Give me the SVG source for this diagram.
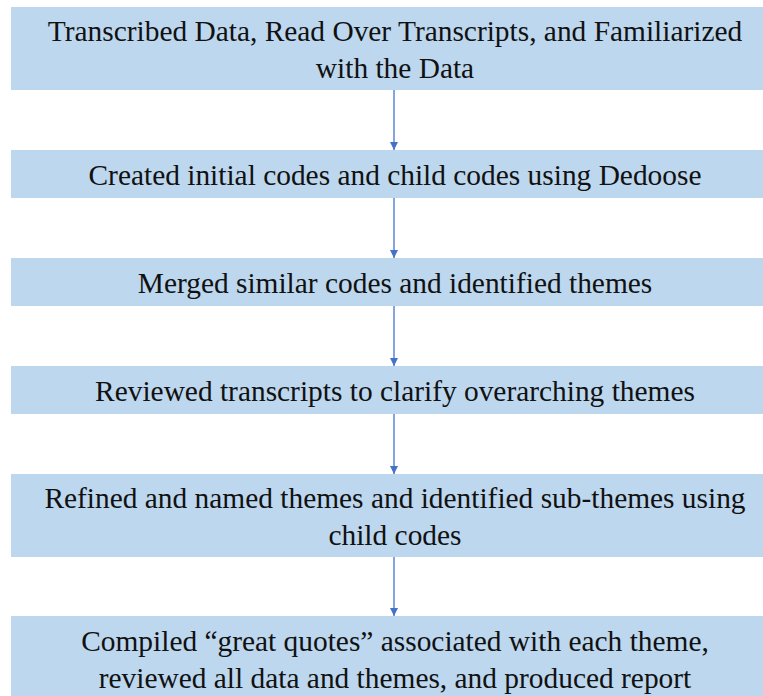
<svg xmlns="http://www.w3.org/2000/svg" width="763" height="696" viewBox="0 0 763 696">
<defs>
<marker id="ah" markerWidth="8" markerHeight="8" refX="8" refY="4" orient="auto" markerUnits="userSpaceOnUse" viewBox="0 0 8 8">
<path d="M0,0 L8,4 L0,8 z" fill="#4472C4"/>
</marker>
</defs>
<rect width="763" height="696" fill="#fff"/>
<g id="connectors" stroke="#5B87D6" stroke-width="1.5">
<line x1="394" y1="90" x2="394" y2="150" marker-end="url(#ah)"/>
<line x1="394" y1="198" x2="394" y2="258" marker-end="url(#ah)"/>
<line x1="394" y1="306" x2="394" y2="366" marker-end="url(#ah)"/>
<line x1="394" y1="414" x2="394" y2="474" marker-end="url(#ah)"/>
<line x1="394" y1="557" x2="394" y2="616" marker-end="url(#ah)"/>
</g>
<g id="n1"><rect fill="#BDD7EE" x="11" y="7" width="752" height="83"/><text font-family="Liberation Serif" font-size="29.4" fill="#111" text-anchor="middle" x="395" y="41">Transcribed Data, Read Over Transcripts, and Familiarized</text><text font-family="Liberation Serif" font-size="29.4" fill="#111" text-anchor="middle" x="395" y="78">with the Data</text></g>
<g id="n2"><rect fill="#BDD7EE" x="11" y="150" width="752" height="48"/><text font-family="Liberation Serif" font-size="29.4" fill="#111" text-anchor="middle" x="395" y="185">Created initial codes and child codes using Dedoose</text></g>
<g id="n3"><rect fill="#BDD7EE" x="11" y="258" width="752" height="48"/><text font-family="Liberation Serif" font-size="29.4" fill="#111" text-anchor="middle" x="395" y="293">Merged similar codes and identified themes</text></g>
<g id="n4"><rect fill="#BDD7EE" x="11" y="366" width="752" height="48"/><text font-family="Liberation Serif" font-size="29.4" fill="#111" text-anchor="middle" x="395" y="401">Reviewed transcripts to clarify overarching themes</text></g>
<g id="n5"><rect fill="#BDD7EE" x="11" y="474" width="752" height="83"/><text font-family="Liberation Serif" font-size="29.4" fill="#111" text-anchor="middle" x="395" y="508">Refined and named themes and identified sub-themes using</text><text font-family="Liberation Serif" font-size="29.4" fill="#111" text-anchor="middle" x="395" y="545">child codes</text></g>
<g id="n6"><rect fill="#BDD7EE" x="11" y="616" width="752" height="80"/><text font-family="Liberation Serif" font-size="29.4" fill="#111" text-anchor="middle" x="395" y="651">Compiled “great quotes” associated with each theme,</text><text font-family="Liberation Serif" font-size="29.4" fill="#111" text-anchor="middle" x="395" y="688">reviewed all data and themes, and produced report</text></g>
</svg>
